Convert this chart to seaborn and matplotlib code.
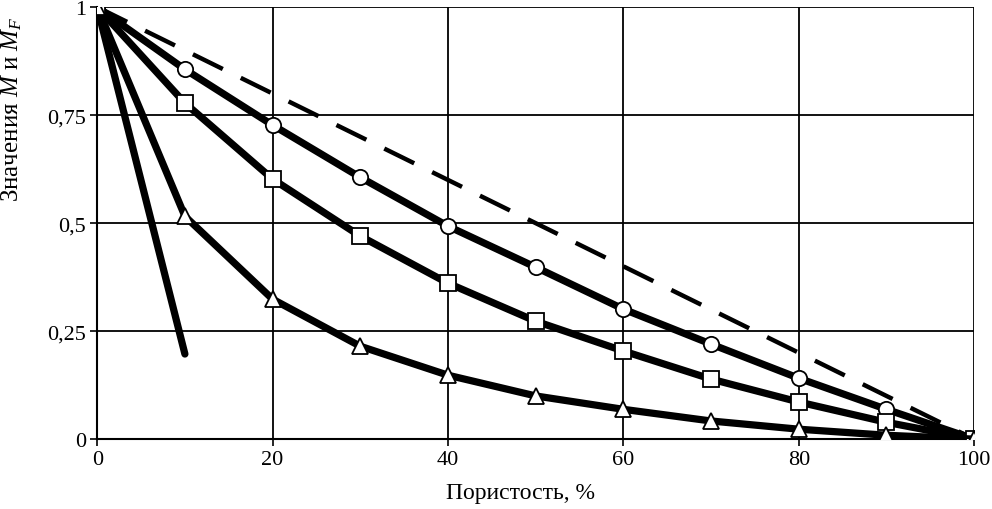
import matplotlib
matplotlib.use("Agg")
import matplotlib.pyplot as plt
import seaborn as sns
import pandas as pd

sns.set_style("white")
plt.rcParams['font.family'] = ['Liberation Serif', 'DejaVu Serif']
plt.rcParams['mathtext.fontset'] = 'custom'
plt.rcParams['mathtext.rm'] = 'Liberation Serif'
plt.rcParams['mathtext.it'] = 'Liberation Serif:italic'

porosity = [0, 10, 20, 30, 40, 50, 60, 70, 80, 90, 100]
circles = [1.0, 0.856, 0.727, 0.606, 0.493, 0.398, 0.301, 0.220, 0.141, 0.069, 0.0]
squares = [1.0, 0.778, 0.602, 0.470, 0.361, 0.273, 0.204, 0.139, 0.086, 0.039, 0.0]
triangles = [1.0, 0.516, 0.324, 0.215, 0.148, 0.100, 0.069, 0.042, 0.023, 0.009, 0.0]
steep_x = [0, 10]
steep_y = [1.0, 0.197]
linear_x = [0, 100]
linear_y = [1.0, 0.0]

xticks = [0, 20, 40, 60, 80, 100]
yticks = [0, 0.25, 0.5, 0.75, 1]
ylabels = ["0", "0,25", "0,5", "0,75", "1"]

fig, ax = plt.subplots(figsize=(9.92, 5.10), dpi=100)
fig.subplots_adjust(left=0.098, right=0.982, top=0.984, bottom=0.137)

lw = 5.2
sns.lineplot(ax=ax, x=linear_x, y=linear_y, color="black", lw=3.2,
             linestyle=(0, (7.5, 4.5)), zorder=3)
sns.lineplot(ax=ax, x=steep_x, y=steep_y, color="black", lw=lw, zorder=3)
for vals, mk in [(circles, "o"), (squares, "s"), (triangles, "^")]:
    sns.lineplot(ax=ax, x=porosity, y=vals, color="black", lw=lw,
                 marker=mk, markersize=11, markerfacecolor="white",
                 markeredgecolor="black", markeredgewidth=1.3, zorder=4)

ax.set_xlim(0, 100)
ax.set_ylim(0, 1)
ax.set_xticks(xticks)
ax.set_yticks(yticks)
ax.set_yticklabels(ylabels)
ax.tick_params(labelsize=16, length=5, width=1.2, direction="out",
               left=True, bottom=True, colors="black", pad=3)
ax.grid(True, color="black", lw=1.3)
for side in ["top", "right"]:
    ax.spines[side].set_visible(False)
for side in ["left", "bottom"]:
    ax.spines[side].set_color("black")
    ax.spines[side].set_linewidth(1.5)
ax.set_xlabel("Пористость, %", fontsize=17, color="black")
ax.set_ylabel("Значения $M$ и $M_F$", fontsize=18, color="black")
ax.xaxis.set_label_coords(0.483, -0.10)
ax.yaxis.set_label_coords(-0.083, 0.765)

plt.savefig("out.png", dpi=100)
